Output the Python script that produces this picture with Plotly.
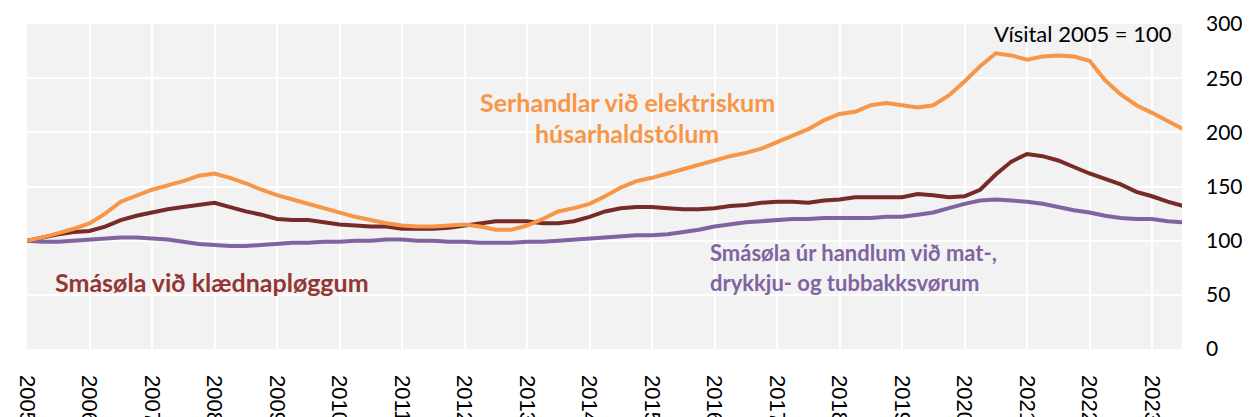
import plotly.graph_objects as go

years = list(range(2005, 2024))
year_labels = [str(y) for y in years]

# quarterly observations, 2005Q1 .. 2023Q3
electrical = [100, 103, 107, 111, 116, 125, 136, 142, 147, 151, 155, 160, 162, 158, 153, 147,
              142, 138, 134, 130, 126, 122, 119, 116, 114, 113, 113, 114, 115, 113, 110, 110,
              114, 120, 127, 130, 134, 141, 149, 155, 158, 162, 166, 170, 174, 178, 181, 185,
              191, 197, 203, 211, 217, 219, 225, 227, 225, 223, 225, 234, 247, 261, 273, 271,
              267, 270, 271, 270, 266, 248, 235, 225, 218, 211, 203]
clothing = [100, 103, 106, 108, 109, 113, 119, 123, 126, 129, 131, 133, 135, 131, 127, 124,
            120, 119, 119, 117, 115, 114, 113, 113, 111, 111, 111, 112, 114, 116, 118, 118,
            118, 116, 116, 118, 122, 127, 130, 131, 131, 130, 129, 129, 130, 132, 133, 135,
            136, 136, 135, 137, 138, 140, 140, 140, 140, 143, 142, 140, 141, 147, 161, 173,
            180, 178, 174, 168, 162, 157, 152, 145, 141, 136, 132]
food = [100, 99, 99, 100, 101, 102, 103, 103, 102, 101, 99, 97, 96, 95, 95, 96,
        97, 98, 98, 99, 99, 100, 100, 101, 101, 100, 100, 99, 99, 98, 98, 98,
        99, 99, 100, 101, 102, 103, 104, 105, 105, 106, 108, 110, 113, 115, 117, 118,
        119, 120, 120, 121, 121, 121, 121, 122, 122, 124, 126, 130, 134, 137, 138, 137,
        136, 134, 131, 128, 126, 123, 121, 120, 120, 118, 117]

t = [2005 + i / 4 for i in range(len(electrical))]

C_ORANGE = "#F79646"
C_MAROON = "#772A28"
C_MAROON_TXT = "#943634"
C_PURPLE = "#8064A2"

fig = go.Figure()
fig.add_trace(go.Scatter(x=t, y=food, mode="lines", line=dict(color=C_PURPLE, width=4),
                         name="Smásøla úr handlum við mat-, drykkju- og tubbakksvørum"))
fig.add_trace(go.Scatter(x=t, y=clothing, mode="lines", line=dict(color=C_MAROON, width=4),
                         name="Smásøla við klædnapløggum"))
fig.add_trace(go.Scatter(x=t, y=electrical, mode="lines", line=dict(color=C_ORANGE, width=4),
                         name="Serhandlar við elektriskum húsarhaldstólum"))

ann_font = "Lato, Carlito, Open Sans, sans-serif"
anns = [
    dict(x=2014.6, y=228, text="<b>Serhandlar við elektriskum</b>", color=C_ORANGE, xanchor="center", size=25),
    dict(x=2014.6, y=199, text="<b>húsarhaldstólum</b>", color=C_ORANGE, xanchor="center", size=25),
    dict(x=2005.42, y=62, text="<b>Smásøla við klædnapløggum</b>", color=C_MAROON_TXT, xanchor="left", size=25),
    dict(x=2015.89, y=89, text="<b>Smásøla úr handlum við mat-,</b>", color=C_PURPLE, xanchor="left", size=22),
    dict(x=2015.89, y=61, text="<b>drykkju- og tubbakksvørum</b>", color=C_PURPLE, xanchor="left", size=22),
]
for a in anns:
    fig.add_annotation(x=a["x"], y=a["y"], text=a["text"], showarrow=False,
                       xanchor=a["xanchor"], yanchor="middle",
                       font=dict(family=ann_font, size=a["size"], color=a["color"]))
fig.add_annotation(x=2023.35, y=291, text="Vísital 2005 = 100", showarrow=False,
                   xanchor="right", yanchor="middle",
                   font=dict(family=ann_font, size=22, color="#000000"))

fig.update_layout(
    width=1242, height=409,
    margin=dict(l=19, r=68, t=16, b=68, autoexpand=False),
    plot_bgcolor="#F2F2F2", paper_bgcolor="#FFFFFF",
    showlegend=False,
)
fig.update_xaxes(range=[2005, 2023.48], tickmode="array", tickvals=years, ticktext=year_labels,
                 tickangle=90, showgrid=True, gridcolor="#FFFFFF", gridwidth=2, automargin=False,
                 zeroline=False, showline=False, ticks="", ticklabelstandoff=25,
                 tickfont=dict(family="Liberation Sans, Arial, sans-serif", size=22, color="#000000"))
fig.update_yaxes(side="right", range=[0, 300], dtick=50, showgrid=True, gridcolor="#FFFFFF",
                 gridwidth=2, zeroline=False, showline=False, ticks="", ticklabelstandoff=23,
                 automargin=False,
                 tickfont=dict(family=ann_font, size=21, color="#000000"))

fig.write_html("out.html")
